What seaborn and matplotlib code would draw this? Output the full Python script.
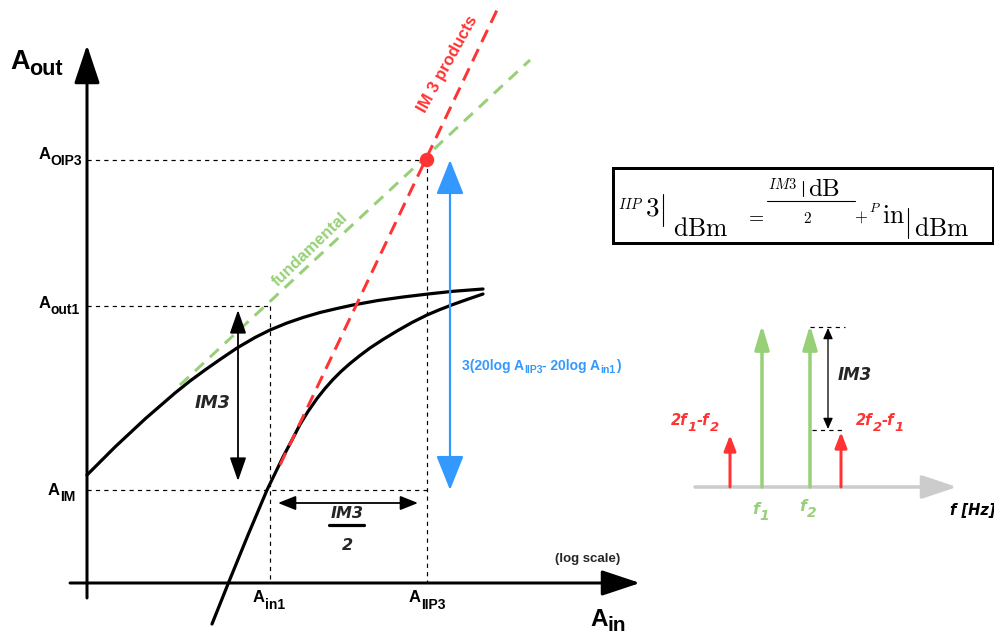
import matplotlib
matplotlib.use("Agg")
import matplotlib.pyplot as plt
import seaborn as sns
import pandas as pd
from matplotlib.patches import Rectangle, Circle

# ---------------- data (diagram coordinates, y grows downward) ----------------
fund_curve_x = [87, 100, 115, 130, 145, 160, 175, 190, 205, 220, 237, 255, 270, 287,
                303, 320, 337, 353, 378, 403, 428, 453, 483]
fund_curve_y = [475, 462, 447, 433, 419, 406, 393, 381, 370, 359.5, 348, 337.5, 330, 323,
                317.5, 312.5, 308.5, 305, 300.5, 297, 294, 291.3, 289]
im3_curve_x = [212, 228, 248, 267, 283, 292, 300, 308, 317, 325, 333, 341, 350, 360, 370,
               383, 397, 412, 427, 440, 453, 467, 483]
im3_curve_y = [624, 584, 535, 490, 457, 440, 424.5, 411.5, 398.5, 388.5, 379.5, 371.5, 363.5,
               355.5, 348, 339.5, 331, 322.5, 315, 309.5, 304.5, 299.5, 294]
fund_line_x = [180, 530]
fund_line_y = [385, 60]
im3_line_x = [280, 497]
im3_line_y = [465, 10]

x_in1, x_iip3 = 270, 427
y_oip3, y_out1, y_im = 160, 306, 490
y_tick_main = ["A", "A", "A"]
y_tick_sub = ["OIP3", "out1", "IM"]
x_tick_main = ["A", "A"]
x_tick_sub = ["in1", "IIP3"]

# spectrum inset
spec_x = [730, 762, 810, 841]
spec_top = [435, 325, 325, 432]
spec_colors = ["#FF3333", "#97D077", "#97D077", "#FF3333"]
spec_base = 487

GREEN = "#97D077"
RED = "#FF3333"
BLUE = "#3399FF"
GRAY = "#CCCCCC"
ARIAL = ["Liberation Sans", "DejaVu Sans"]
VERD = ["DejaVu Sans"]

sns.set_theme(style="white")
plt.rcParams["font.family"] = ARIAL

fig = plt.figure(figsize=(9.95, 6.37), dpi=100)
ax = fig.add_axes([0, 0, 1, 1])
R = fig.canvas.get_renderer()

PX = 0.72  # px -> pt


def arrow(x0, y0, x1, y1, color, lw_px, hl_px, hw_px, style="-|>", z=3):
    ax.annotate("", xy=(x1, y1), xytext=(x0, y0),
                arrowprops=dict(arrowstyle=f"{style},head_length={hl_px*PX},head_width={hw_px*PX}",
                                color=color, lw=lw_px * PX, shrinkA=0, shrinkB=0,
                                mutation_scale=1),
                zorder=z)


def pieces(x, y, parts, ha="left", color="black", family=ARIAL, style="normal",
           weight="bold", **kw):
    """parts: list of (text, fontsize, baseline drop in px)"""
    ts, ws = [], []
    for s, size, dy in parts:
        t = ax.text(0, y + dy, s, fontsize=size, color=color, family=family,
                    fontstyle=style, fontweight=weight, ha="left", va="baseline", **kw)
        ts.append(t)
        ws.append(t.get_window_extent(R).width)
    total = sum(ws)
    start = x - {"left": 0, "center": total / 2, "right": total}[ha]
    for t, w in zip(ts, ws):
        t.set_x(start)
        start += w


# curves via seaborn
df_f = pd.DataFrame({"x": fund_curve_x, "y": fund_curve_y})
df_i = pd.DataFrame({"x": im3_curve_x, "y": im3_curve_y})
sns.lineplot(data=df_f, x="x", y="y", ax=ax, sort=False, estimator=None,
             color="black", lw=3.2 * PX, zorder=2)
sns.lineplot(data=df_i, x="x", y="y", ax=ax, sort=False, estimator=None,
             color="black", lw=3.2 * PX, zorder=2)
ax.set_xlim(0, 995)
ax.set_ylim(637, 0)
ax.axis("off")

# axes
arrow(87, 598, 87, 45, "black", 3, 33, 11)
arrow(70, 583, 640, 583, "black", 3, 33, 11)

# thin dashed guides
thin = dict(color="black", lw=1.2 * PX, linestyle=(0, (3.5, 3.5)), zorder=1)
ax.plot([87, x_iip3], [y_oip3, y_oip3], **thin)
ax.plot([87, x_in1], [y_out1, y_out1], **thin)
ax.plot([87, x_iip3], [y_im, y_im], **thin)
ax.plot([x_in1, x_in1], [y_out1, 583], **thin)
ax.plot([x_iip3, x_iip3], [y_oip3, 583], **thin)

# asymptotes
ax.plot(fund_line_x, fund_line_y, color=GREEN, lw=3 * PX, linestyle=(0, (4, 2.8)), zorder=3)
ax.plot(im3_line_x, im3_line_y, color=RED, lw=3 * PX, linestyle=(0, (4.5, 2.6)), zorder=3)
ax.add_patch(Circle((x_iip3, y_oip3), 6.5, color=RED, zorder=5))

# double arrows
arrow(238, 310, 238, 481, "black", 1.8, 20, 7, style="<|-|>")
arrow(278, 503, 418, 503, "black", 1.8, 15, 6, style="<|-|>")
arrow(450, 160, 450, 490, BLUE, 2.2, 30, 12, style="<|-|>")

# axis titles
pieces(10, 69, [("A", 19.5, 0), ("out", 15.5, 6)])
pieces(590, 626, [("A", 17.5, 0), ("in", 15, 5)])

for m, s, yy, xr in zip(y_tick_main, y_tick_sub, [159, 308, 495], [82, 80, 75]):
    pieces(xr, yy, [(m, 12, 0), (s, 10, 6)], ha="right")
for m, s, xx in zip(x_tick_main, x_tick_sub, [x_in1 - 1, x_iip3]):
    pieces(xx, 602, [(m, 12, 0), (s, 10, 7)], ha="center")

ax.text(588, 559, "(log scale)", fontsize=9.5, fontweight="bold", ha="center", va="center")

# IM3 labels (Verdana-like)
ax.text(213, 403, "IM3", fontsize=12.5, fontweight="bold", fontstyle="italic", family=VERD,
        ha="center", va="center")
ax.text(347, 513.5, "IM3", fontsize=11.5, fontweight="bold", fontstyle="italic", family=VERD,
        ha="center", va="center")
ax.plot([329, 364], [524.5, 524.5], color="black", lw=3.2 * PX)
ax.text(347, 545, "2", fontsize=11.5, fontweight="bold", fontstyle="italic", family=VERD,
        ha="center", va="center")

pieces(462, 370, [("3(20log A", 10, 0), ("IIP3", 7.5, 3), ("- 20log A", 10, 0),
                  ("in1", 7.5, 3), (")", 10, 0)], color=BLUE)
ax.text(448, 64, "IM 3 products", fontsize=12, fontweight="bold", color=RED,
        rotation=61, ha="center", va="center", rotation_mode="anchor")
ax.text(310, 250, "fundamental", fontsize=12, fontweight="bold", color=GREEN,
        rotation=44, ha="center", va="center", rotation_mode="anchor")

# formula box
ax.add_patch(Rectangle((613, 168), 380, 75, fill=False, ec="black", lw=3 * PX, zorder=4))
fkw = dict(math_fontfamily="cm", va="baseline", zorder=5, color="black")
ax.text(618, 209, r"$IIP$", fontsize=10.5, ha="left", **fkw)
ax.text(645, 216, r"$3$", fontsize=19.5, ha="left", **fkw)
ax.text(673, 236, r"$\mathrm{dBm}$", fontsize=18.5, ha="left", **fkw)
ax.text(755, 222, r"$=$", fontsize=14, ha="center", **fkw)
ax.text(768, 189, r"$IM3$", fontsize=10.5, ha="left", **fkw)
ax.text(808, 196, r"$\mathrm{dB}$", fontsize=18, ha="left", **fkw)
ax.text(807, 223, r"$2$", fontsize=11, ha="center", **fkw)
ax.text(861, 222, r"$+$", fontsize=12, ha="center", **fkw)
ax.text(869, 212, r"$P$", fontsize=9.5, ha="left", **fkw)
ax.text(882, 223, r"$\mathrm{in}$", fontsize=18.5, ha="left", **fkw)
ax.text(914, 236, r"$\mathrm{dBm}$", fontsize=18.5, ha="left", **fkw)
bar = dict(color="black", lw=1.1 * PX, zorder=5)
ax.plot([663, 663], [194, 226], **bar)
ax.plot([803, 803], [181, 196], **bar)
ax.plot([908, 908], [208, 238], **bar)
ax.plot([767, 855], [201, 201], **bar)

# spectrum inset
arrow(695, spec_base, 957, spec_base, GRAY, 3.5, 30, 10, z=2)
for sx, st, sc in zip(spec_x, spec_top, spec_colors):
    big = sc == GREEN
    arrow(sx, spec_base, sx, st, sc, 3.5 if big else 3, 20 if big else 13, 6 if big else 5, z=3)
ax.plot([810, 845], [327, 327], **thin)
ax.plot([812, 845], [430, 430], **thin)
arrow(828, 328, 828, 429, "black", 1.3, 9, 4, style="<|-|>")
ax.text(855, 375, "IM3", fontsize=12, fontweight="bold", fontstyle="italic", family=VERD,
        ha="center", va="center")
pieces(695, 425, [("2f", 10.5, 0), ("1", 9.5, 6), ("-f", 10.5, 0), ("2", 9.5, 6)],
       ha="center", color=RED, family=VERD, style="italic")
pieces(880, 425, [("2f", 10.5, 0), ("2", 9.5, 6), ("-f", 10.5, 0), ("1", 9.5, 6)],
       ha="center", color=RED, family=VERD, style="italic")
pieces(761, 514, [("f", 11.5, 0), ("1", 10, 6)], ha="center", color=GREEN, family=VERD,
       style="italic")
pieces(808, 511, [("f", 11.5, 0), ("2", 10, 6)], ha="center", color=GREEN, family=VERD,
       style="italic")
ax.text(973, 510, "f [Hz]", fontsize=10.5, fontweight="bold", fontstyle="italic", family=VERD,
        color="black", ha="center", va="center")

fig.savefig("out.png", dpi=100)
